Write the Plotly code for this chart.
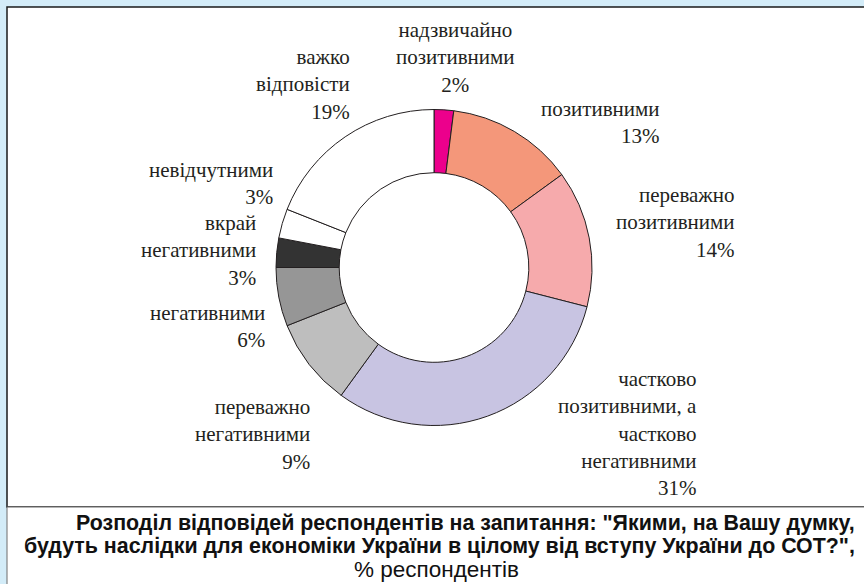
import plotly.graph_objects as go

# ---- data ----
categories = [
    "надзвичайно позитивними",
    "позитивними",
    "переважно позитивними",
    "частково позитивними, а частково негативними",
    "переважно негативними",
    "негативними",
    "вкрай негативними",
    "невідчутними",
    "важко відповісти",
]
label_lines = [
    ["надзвичайно", "позитивними"],
    ["позитивними"],
    ["переважно", "позитивними"],
    ["частково", "позитивними, а", "частково", "негативними"],
    ["переважно", "негативними"],
    ["негативними"],
    ["вкрай", "негативними"],
    ["невідчутними"],
    ["важко", "відповісти"],
]
values = [2, 13, 14, 31, 9, 6, 3, 3, 19]
colors = ["#ec008c", "#f4977a", "#f6aaac", "#c8c4e2", "#bebebe",
          "#969696", "#333333", "#ffffff", "#ffffff"]

caption_lines = [
    "Розподіл відповідей респондентів на запитання: \"Якими, на Вашу думку,",
    "будуть наслідки для економіки України в цілому від вступу України до СОТ?\",",
]
caption_unit = "% респондентів"

# ---- layout helpers (pixel positions of the labels) ----
W, H = 864, 584
label_pos = [  # (x px, y center px, anchor)
    (455, 58, "center"),
    (662, 122.5, "right"),
    (737, 222.5, "right"),
    (699, 433.5, "right"),
    (312, 434, "right"),
    (267, 326, "right"),
    (258, 250, "right"),
    (275, 184, "right"),
    (352, 85, "right"),
]

def px(x):
    return x / W

def py(y):
    return 1 - y / H

cx, cy, r = 434, 267.5, 158

fig = go.Figure()
fig.add_trace(go.Pie(
    labels=categories,
    values=values,
    sort=False,
    direction="clockwise",
    rotation=0,
    hole=0.6,
    marker=dict(colors=colors, line=dict(color="#231f20", width=1)),
    textinfo="none",
    hoverinfo="label+percent",
    showlegend=False,
    domain=dict(x=[px(cx - r), px(cx + r)], y=[py(cy + r), py(cy - r)]),
))

serif = "Liberation Serif, DejaVu Serif, serif"
annotations = []
for lines, v, (x, y, anchor) in zip(label_lines, values, label_pos):
    text = "<br>".join(lines + [f"{v}%"])
    annotations.append(dict(
        x=px(x), y=py(y), xref="paper", yref="paper",
        xanchor=anchor, yanchor="middle", align=anchor,
        text=text, showarrow=False,
        font=dict(family=serif, size=21, color="#231f20"),
    ))

sans = "Liberation Sans, Arial, sans-serif"
for i, (line, yc) in enumerate(zip(caption_lines, [523, 546])):
    annotations.append(dict(
        x=px(857), y=py(yc), xref="paper", yref="paper",
        xanchor="right", yanchor="middle", align="right",
        text=f"<b>{line}</b>", showarrow=False,
        font=dict(family=sans, size=21.4, color="#111111"),
    ))
annotations.append(dict(
    x=px(436), y=py(569), xref="paper", yref="paper",
    xanchor="center", yanchor="middle",
    text=caption_unit, showarrow=False,
    font=dict(family=sans, size=22.5, color="#111111"),
))

shapes = [
    dict(type="rect", xref="paper", yref="paper", layer="below",
         x0=px(7), x1=px(W + 10), y0=py(507), y1=py(7),
         fillcolor="#ffffff", line=dict(color="#1a1a1a", width=1.5)),
    dict(type="rect", xref="paper", yref="paper", layer="below",
         x0=px(7), x1=px(W + 10), y0=py(H + 10), y1=py(507),
         fillcolor="#ffffff", line=dict(color="#6d6d6d", width=1)),
]

fig.update_layout(
    width=W, height=H,
    margin=dict(l=0, r=0, t=0, b=0),
    paper_bgcolor="#d3ecf8",
    plot_bgcolor="#d3ecf8",
    annotations=annotations,
    shapes=shapes,
)

fig.write_html(
    "out.html",
    config={"displayModeBar": False},
    post_script="document.body.style.margin='0';document.body.style.padding='0';",
)
